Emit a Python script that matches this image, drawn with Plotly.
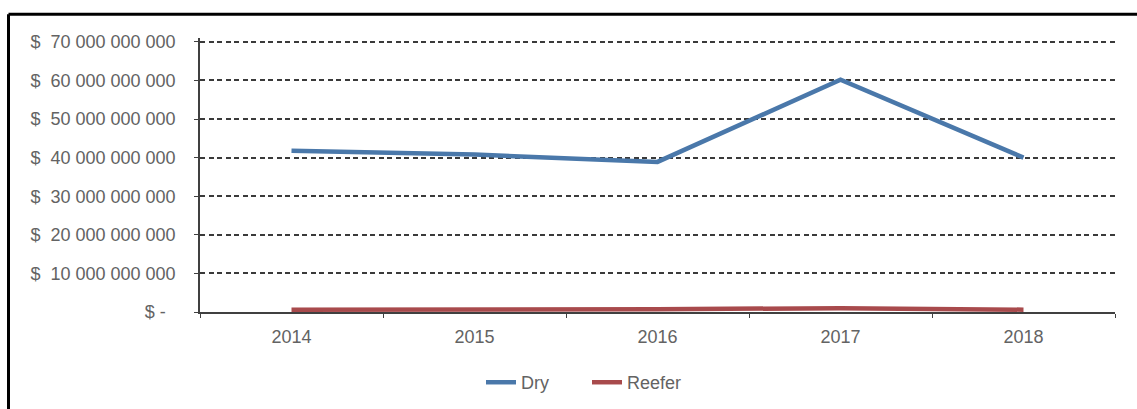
import plotly.graph_objects as go

# Annual values (USD)
years = ["2014", "2015", "2016", "2017", "2018"]
dry = [41.8e9, 40.8e9, 38.9e9, 60.2e9, 40.0e9]
reefer = [0.6e9, 0.6e9, 0.7e9, 1.0e9, 0.6e9]

y_tickvals = [0, 10e9, 20e9, 30e9, 40e9, 50e9, 60e9, 70e9]
y_ticktext = [
    "$ -\u00a0\u00a0",
    "$\u00a0\u00a010 000 000 000",
    "$\u00a0\u00a020 000 000 000",
    "$\u00a0\u00a030 000 000 000",
    "$\u00a0\u00a040 000 000 000",
    "$\u00a0\u00a050 000 000 000",
    "$\u00a0\u00a060 000 000 000",
    "$\u00a0\u00a070 000 000 000",
]

W, H = 1137, 409
L, R, B = 200, 22, 97
TOP_PX = 42          # pixel row of the 70 bn gridline
Y_MAX = 71e9         # a little headroom so the top gridline is drawn
ph = (H - B - TOP_PX) * Y_MAX / 70e9
T = H - B - ph

fig = go.Figure()
fig.add_trace(go.Scatter(x=years, y=dry, name="Dry", mode="lines",
                         line=dict(color="#4a78aa", width=4.5)))
fig.add_trace(go.Scatter(x=years, y=reefer, name="Reefer", mode="lines",
                         line=dict(color="#a84a4c", width=4.5)))

# outer frame (top and left edges visible)
pw = W - L - R
def px_x(p):
    return (p - L) / pw
def px_y(p):
    return (H - B - p) / ph
fig.add_shape(type="line", xref="paper", yref="paper",
              x0=px_x(8.5), x1=px_x(W + 10), y0=px_y(14.3), y1=px_y(14.3),
              line=dict(color="black", width=3))
fig.add_shape(type="line", xref="paper", yref="paper",
              x0=px_x(8.5), x1=px_x(8.5), y0=px_y(14.3), y1=px_y(H + 10),
              line=dict(color="black", width=3))

font = dict(family="Liberation Sans, Arial, sans-serif", size=18, color="#636363")

fig.update_layout(
    width=W, height=H,
    margin=dict(l=L, r=R, t=T, b=B, autoexpand=False),
    paper_bgcolor="white", plot_bgcolor="white",
    font=font,
    showlegend=True,
    legend=dict(orientation="h", x=px_x(481), xanchor="left", y=px_y(364), yanchor="top",
                font=dict(size=18, color="#636363"), entrywidth=61,
                traceorder="normal"),
    xaxis=dict(
        type="category", range=[-0.5, 4.5], automargin=False,
        showgrid=False, showline=True, linecolor="#404040", linewidth=1.5,
        ticks="outside", tickson="boundaries", ticklen=4, tickcolor="#404040",
        ticklabelstandoff=8, tickfont=font,
    ),
    yaxis=dict(
        range=[0, Y_MAX], tickvals=y_tickvals, ticktext=y_ticktext, automargin=False,
        showgrid=True, gridcolor="#3a3a3a", gridwidth=2, griddash="5px,3.5px",
        showline=True, linecolor="#404040", linewidth=1.5,
        ticks="outside", ticklen=4, tickcolor="#404040",
        ticklabelstandoff=15, tickfont=font, zeroline=False,
    ),
)

fig.write_html("out.html")
